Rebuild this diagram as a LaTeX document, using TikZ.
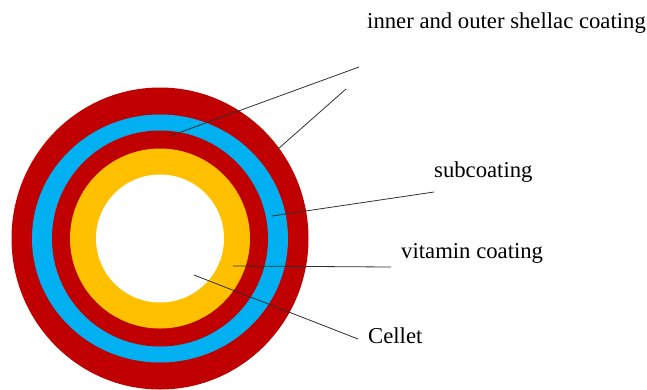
\documentclass[tikz,border=0pt]{standalone}
\usepackage{fontspec}
\setmainfont{Liberation Serif}
\definecolor{ringred}{HTML}{C00000}
\definecolor{ringblue}{HTML}{00B0F0}
\definecolor{ringyellow}{HTML}{FFC000}
\definecolor{leader}{HTML}{303030}
\begin{document}
\begin{tikzpicture}[x=1pt,y=-1pt,
  lbl/.style={anchor=base west,inner sep=0pt,font=\fontsize{22.7}{26}\selectfont,text=black},
  lead/.style={draw=leader,line width=0.8pt}]
\useasboundingbox (0,0) rectangle (647,389);
\coordinate (c) at (160,238.5);
\fill[ringred] (c) ellipse[x radius=148.5pt,y radius=151pt];
\fill[ringblue] (c) ellipse[x radius=128pt,y radius=124pt];
\fill[ringred] (c) circle[radius=108pt];
\fill[ringyellow] (c) circle[radius=90pt];
\fill[white] (c) circle[radius=64pt];
% labels
\node[lbl] (shellac) at (367,28) {inner and outer shellac coating};
\node[lbl] (sub) at (434,177) {subcoating};
\node[lbl] (vit) at (401,258) {vitamin coating};
\node[lbl] (cel) at (368,343) {Cellet};
% leader end points
\coordinate (s1a) at (170,136);
\coordinate (s1b) at (359,67);
\coordinate (s2a) at (278,149);
\coordinate (s2b) at (346,89);
\coordinate (sua) at (272,216);
\coordinate (sub-end) at (434,192);
\coordinate (via) at (233,266);
\coordinate (vit-end) at (391,267);
\coordinate (cea) at (194,275);
\coordinate (cel-end) at (358,339);
\draw[lead] (s1a) -- (s1b);
\draw[lead] (s2a) -- (s2b);
\draw[lead] (sua) -- (sub-end);
\draw[lead] (via) -- (vit-end);
\draw[lead] (cea) -- (cel-end);
\end{tikzpicture}
\end{document}
